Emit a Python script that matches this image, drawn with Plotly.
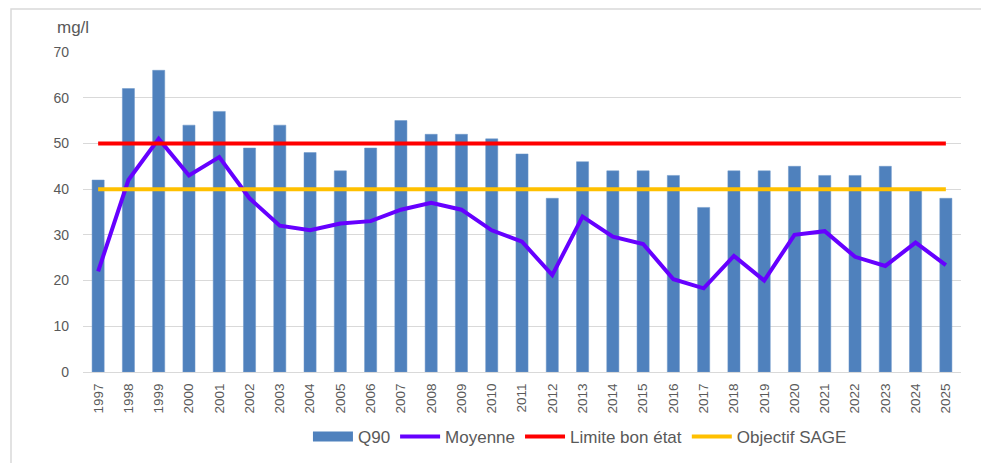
import plotly.graph_objects as go

years = [str(y) for y in range(1997, 2026)]
q90 = [42, 62, 66, 54, 57, 49, 54, 48, 44, 49, 55, 52, 52, 51, 47.7,
       38, 46, 44, 44, 43, 36, 44, 44, 45, 43, 43, 45, 40, 38]
moyenne = [22, 42, 51, 43, 47, 38, 32, 31, 32.5, 33, 35.5, 37, 35.5, 31, 28.5,
           21.2, 34, 29.6, 28, 20.3, 18.3, 25.4, 20, 30, 30.8, 25.2, 23.2, 28.3, 23.4]
limite_bon_etat = [50] * len(years)
objectif_sage = [40] * len(years)

font_family = "Liberation Sans"
grey_text = "#595959"
bar_color = "#4f81bd"

fig = go.Figure()
fig.add_trace(go.Bar(x=years, y=q90, name="Q90", showlegend=False, legendgroup="q90",
                     marker=dict(color=bar_color, line=dict(color="#6d97c8", width=0.5))))
# wide rectangle legend swatch for the bars, like the Excel legend
fig.add_trace(go.Scatter(x=[None], y=[None], name="Q90", mode="lines", legendgroup="q90",
                         line=dict(color=bar_color, width=10)))
fig.add_trace(go.Scatter(x=years, y=moyenne, name="Moyenne", mode="lines",
                         line=dict(color="#6600ff", width=4)))
fig.add_trace(go.Scatter(x=years, y=limite_bon_etat, name="Limite bon état", mode="lines",
                         line=dict(color="#ff0000", width=4)))
fig.add_trace(go.Scatter(x=years, y=objectif_sage, name="Objectif SAGE", mode="lines",
                         line=dict(color="#ffc000", width=4)))

fig.update_xaxes(
    type="category", tickangle=-90, automargin=False, ticklabelstandoff=5,
    tickfont=dict(size=13.5, color=grey_text, family=font_family),
    showline=True, linecolor="#d9d9d9", linewidth=1,
    showgrid=False, ticks="",
)
fig.update_yaxes(
    range=[0, 70], dtick=10, automargin=False, ticklabelstandoff=13,
    tickfont=dict(size=14, color=grey_text, family=font_family),
    showgrid=True, gridcolor="#d9d9d9", gridwidth=1,
    zeroline=False, ticks="", showline=False,
)

fig.add_annotation(text="mg/l", xref="paper", yref="paper", x=-0.032, y=1.078,
                   xanchor="left", yanchor="middle", showarrow=False,
                   font=dict(size=17, color=grey_text, family=font_family))

# outer frame of the chart
fig.add_shape(type="rect", xref="paper", yref="paper",
              x0=-0.082, x1=1.0296, y0=-0.35, y1=1.134,
              line=dict(color="#d9d9d9", width=1.5))

fig.update_layout(
    width=989, height=463,
    margin=dict(l=75, r=36, t=44, b=99, autoexpand=False),
    plot_bgcolor="white", paper_bgcolor="white",
    bargap=0.6,
    font=dict(family=font_family, color=grey_text),
    showlegend=True,
    legend=dict(orientation="h", x=0.566, xanchor="center", y=-0.203, yanchor="middle",
                font=dict(size=17, color=grey_text, family=font_family),
                itemwidth=40, traceorder="normal"),
)

fig.write_html("out.html")
